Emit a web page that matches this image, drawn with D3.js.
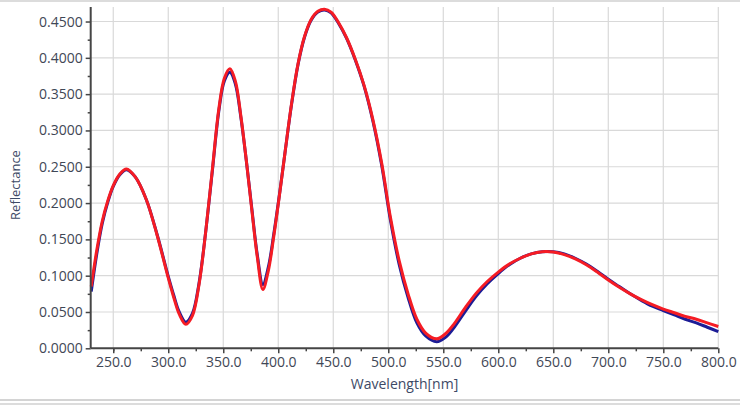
<!DOCTYPE html>
<html>
<head>
<meta charset="utf-8">
<script src="https://cdn.jsdelivr.net/npm/d3@7/dist/d3.min.js"></script>
<style>
  html, body { margin: 0; padding: 0; background: #ffffff; }
  svg { display: block; }
</style>
</head>
<body>
<svg id="chart" width="740" height="405"></svg>
<script>
// ---- Data ----
const wavelengths = [
  230,235,240,245,250,256,262,270,280,290,
  300,305,310,316,322,328,334,340,346,351,
  356,361,366,371,376,381,386,391,396,401,
  406,412,418,424,430,436,442,448,455,462,
  470,478,486,494,502,510,518,526,534,544,
  552,560,570,580,590,600,610,620,630,640,
  650,660,670,680,690,700,710,720,730,740,
  750,760,770,780,790,800];
const redValues = [
  0.085,0.135,0.175,0.203,0.224,0.240,0.247,0.236,0.205,0.155,
  0.097,0.070,0.047,0.033,0.045,0.088,0.160,0.245,0.330,0.372,
  0.385,0.368,0.320,0.258,0.190,0.125,0.081,0.107,0.155,0.210,
  0.268,0.336,0.392,0.430,0.453,0.464,0.467,0.463,0.448,0.428,
  0.398,0.362,0.315,0.255,0.180,0.120,0.075,0.040,0.021,0.013,
  0.020,0.034,0.056,0.076,0.092,0.105,0.116,0.124,0.130,0.133,
  0.1325,0.129,0.123,0.115,0.105,0.094,0.084,0.075,0.067,0.060,
  0.054,0.049,0.044,0.040,0.035,0.030];
const blueValues = [
  0.078,0.130,0.172,0.201,0.223,0.239,0.246,0.236,0.205,0.156,
  0.099,0.073,0.050,0.036,0.048,0.090,0.160,0.243,0.327,0.368,
  0.380,0.364,0.318,0.258,0.192,0.128,0.088,0.112,0.158,0.211,
  0.268,0.335,0.391,0.429,0.452,0.463,0.466,0.462,0.447,0.427,
  0.397,0.361,0.313,0.252,0.176,0.115,0.070,0.035,0.017,0.009,
  0.015,0.029,0.051,0.072,0.089,0.103,0.115,0.124,0.130,0.133,
  0.133,0.130,0.124,0.116,0.106,0.095,0.085,0.075,0.066,0.058,
  0.052,0.046,0.040,0.035,0.029,0.023];
const xTicks = [250,300,350,400,450,500,550,600,650,700,750,800];
const yTicks = [0,0.05,0.10,0.15,0.20,0.25,0.30,0.35,0.40,0.45];
const xTitle = "Wavelength[nm]";
const yTitle = "Reflectance";

// ---- Layout ----
const svg = d3.select("#chart");
const pLeft = 90.7, pRight = 718.3, pTop = 7, pBottom = 348.3;
const x = d3.scaleLinear().domain([229.5, 800]).range([pLeft, pRight]);
const y = d3.scaleLinear().domain([0, 0.47]).range([pBottom, pTop]);

const textColor = "#3f4756";
const font = "'Open Sans', 'Noto Sans', sans-serif";

// window frame lines
svg.append("rect").attr("x", 0).attr("y", 0).attr("width", 740).attr("height", 2).attr("fill", "#dcdcdc");
svg.append("rect").attr("x", 0).attr("y", 399).attr("width", 740).attr("height", 2).attr("fill", "#d4d4d4");
svg.append("rect").attr("x", 0).attr("y", 403).attr("width", 740).attr("height", 2).attr("fill", "#dcdcdc");

// gridlines
const grid = svg.append("g").attr("stroke", "#d9d9d9").attr("stroke-width", 1.2);
xTicks.forEach(t => {
  grid.append("line").attr("x1", x(t)).attr("x2", x(t)).attr("y1", pTop).attr("y2", pBottom);
});
yTicks.filter(t => t > 0).forEach(t => {
  grid.append("line").attr("x1", pLeft).attr("x2", pRight).attr("y1", y(t)).attr("y2", y(t));
});

// curves
const line = d3.line().curve(d3.curveCatmullRom.alpha(0.5));
const bluePts = wavelengths.map((w, i) => [x(w), y(blueValues[i])]);
const redPts = wavelengths.map((w, i) => [x(w), y(redValues[i])]);
svg.append("path").attr("d", line(bluePts)).attr("fill", "none")
  .attr("stroke", "#1c1c96").attr("stroke-width", 3).attr("stroke-linejoin", "round");
svg.append("path").attr("d", line(redPts)).attr("fill", "none")
  .attr("stroke", "#f51c24").attr("stroke-width", 3).attr("stroke-linejoin", "round");

// axes
const axisColor = "#454545";
const yAxis = d3.axisLeft(y).tickValues(yTicks).tickFormat(d3.format(".4f")).tickSize(5).tickPadding(3);
const gy = svg.append("g").attr("transform", `translate(${pLeft},0)`).call(yAxis);
const xAxis = d3.axisBottom(x).tickValues(xTicks).tickFormat(d3.format(".1f")).tickSize(5).tickPadding(4);
const gx = svg.append("g").attr("transform", `translate(0,${pBottom})`).call(xAxis);

// minor ticks
const yMinor = yTicks.map(t => t + 0.025).filter(t => t < 0.47);
svg.append("g").attr("transform", `translate(${pLeft},0)`)
  .call(d3.axisLeft(y).tickValues(yMinor).tickFormat("").tickSize(3))
  .call(g => g.select(".domain").remove());
const xMinor = [225, ...xTicks].map(t => t + 25).filter(t => t > 229.5 && t < 800);
svg.append("g").attr("transform", `translate(0,${pBottom})`)
  .call(d3.axisBottom(x).tickValues(xMinor).tickFormat("").tickSize(3))
  .call(g => g.select(".domain").remove());

svg.selectAll(".domain").attr("stroke", axisColor).attr("stroke-width", 2);
svg.selectAll(".tick line").attr("stroke", axisColor).attr("stroke-width", 1.5);
svg.selectAll(".tick text").attr("fill", textColor).style("font-family", font).style("font-size", "14px");

gy.select(".domain").attr("d", `M0,${pBottom}V${pTop}`);
gx.select(".domain").attr("d", `M${pLeft},0H${pRight}`);

// titles
svg.append("text").attr("x", (pLeft + pRight) / 2).attr("y", 389)
  .attr("text-anchor", "middle").attr("fill", "#3d4a66")
  .style("font-family", font).style("font-size", "14px").text(xTitle);
svg.append("text").attr("transform", `translate(20,185) rotate(-90)`)
  .attr("text-anchor", "middle").attr("fill", "#3d4a66")
  .style("font-family", font).style("font-size", "13px").text(yTitle);
</script>
</body>
</html>
